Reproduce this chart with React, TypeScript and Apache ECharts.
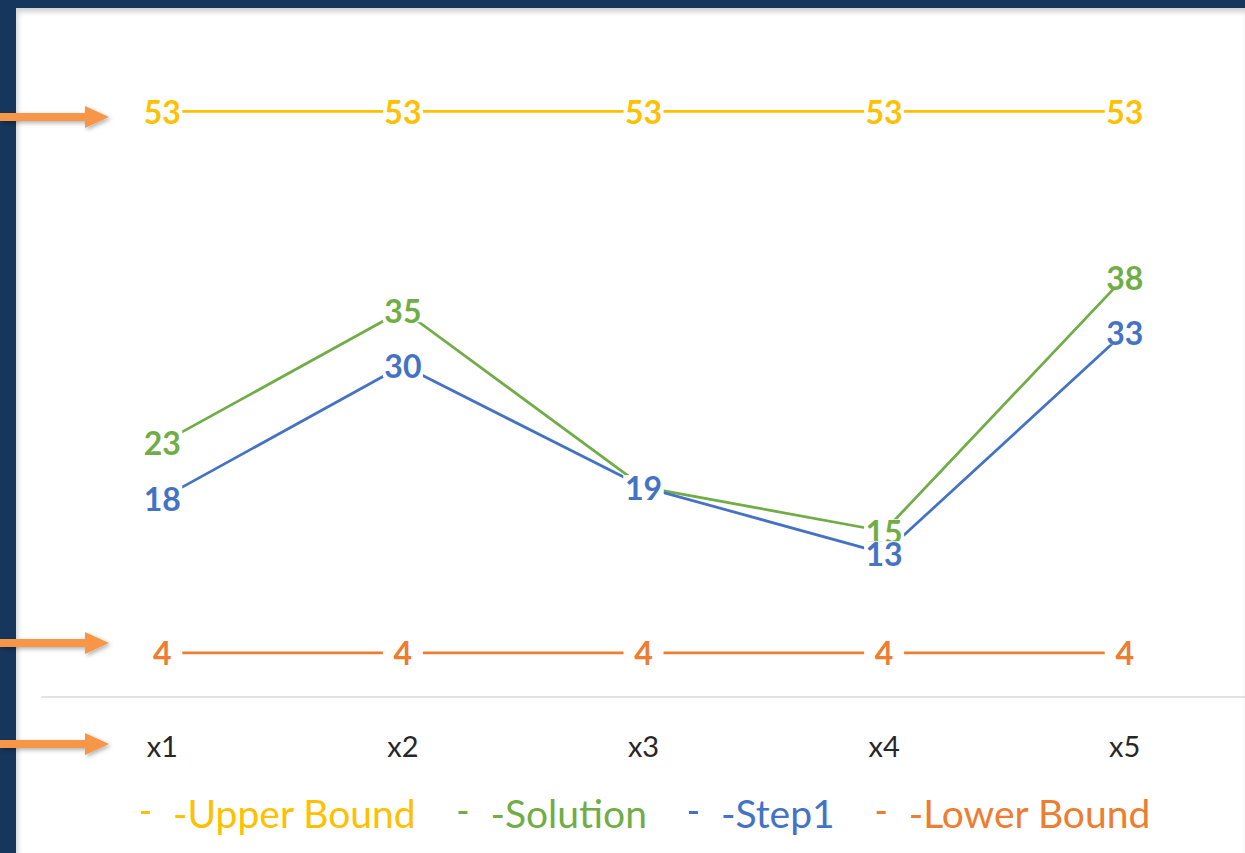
import React, { useEffect, useRef } from "react";
import * as echarts from "echarts";

const categories = ["x1", "x2", "x3", "x4", "x5"];
const upperBound = [53, 53, 53, 53, 53];
const solution = [23, 35, 19, 15, 38];
const step1 = [18, 30, 19, 13, 33];
const lowerBound = [4, 4, 4, 4, 4];
const seriesNames = ["Upper Bound", "Solution", "Step1", "Lower Bound"];
const seriesColors = ["#FFC000", "#70AD47", "#4472C4", "#ED7D31"];
const arrowYs = [117, 643, 744];

const FONT = "Lato, 'Open Sans', sans-serif";

function arrow(y: number) {
  return {
    type: "polygon",
    z: 100,
    shape: {
      points: [
        [0, y - 4],
        [85, y - 4],
        [85, y - 11],
        [109, y],
        [85, y + 11],
        [85, y + 4],
        [0, y + 4],
      ],
    },
    style: {
      fill: "#F79646",
      shadowBlur: 4,
      shadowOffsetX: 2,
      shadowOffsetY: 2,
      shadowColor: "rgba(0,0,0,0.3)",
    },
  };
}

export default function App() {
  const ref = useRef<HTMLDivElement>(null);
  useEffect(() => {
    if (!ref.current) return;
    const chart = echarts.init(ref.current, undefined, { renderer: "svg" });
    const datas = [upperBound, solution, step1, lowerBound];
    chart.setOption({
      animation: false,
      grid: { left: 42, right: 0, top: 34, bottom: 156, containLabel: false },
      xAxis: {
        type: "category",
        data: categories,
        boundaryGap: true,
        axisLine: { lineStyle: { color: "#D9D9D9", width: 1.5 } },
        axisTick: { show: false },
        axisLabel: { color: "#262626", fontSize: 29, fontFamily: FONT, margin: 34 },
      },
      yAxis: {
        type: "value",
        min: 0,
        max: 60,
        show: false,
        splitLine: { show: false },
      },
      legend: {
        top: 788,
        left: 136,
        icon: "rect",
        itemWidth: 9,
        itemHeight: 3,
        itemGap: 42,
        formatter: (n: string) => "-" + n,
        textStyle: { fontSize: 39, fontFamily: FONT, padding: [0, 0, 0, 18] },
        data: seriesNames.map((n, i) => ({ name: n, textStyle: { color: seriesColors[i] } })),
      },
      graphic: arrowYs.map(arrow),
      series: seriesNames.map((name, i) => ({
        name,
        type: "line",
        data: datas[i],
        color: seriesColors[i],
        symbol: "circle",
        symbolSize: 1,
        lineStyle: { color: seriesColors[i], width: 2.75 },
        itemStyle: { color: seriesColors[i] },
        label: {
          show: true,
          position: "inside",
          color: seriesColors[i],
          fontSize: 32,
          fontWeight: "bold",
          fontFamily: FONT,
          backgroundColor: "#ffffff",
          width: 40,
          height: 24,
          lineHeight: 24,
          align: "center",
          verticalAlign: "middle",
        },
        labelLayout: { hideOverlap: false },
      })),
    });
    return () => chart.dispose();
  }, []);
  return (
    <div style={{ position: "absolute", left: 0, top: 0, width: 1245, height: 853, background: "#17365D", overflow: "hidden" }}>
      <div
        style={{
          position: "absolute",
          left: 16,
          top: 8,
          width: 1229,
          height: 845,
          background: "#ffffff",
          boxShadow: "inset 2px 4px 5px rgba(0,0,0,0.18)",
        }}
      />
      <div ref={ref} style={{ position: "absolute", left: 0, top: 0, width: 1245, height: 853 }} />
    </div>
  );
}
